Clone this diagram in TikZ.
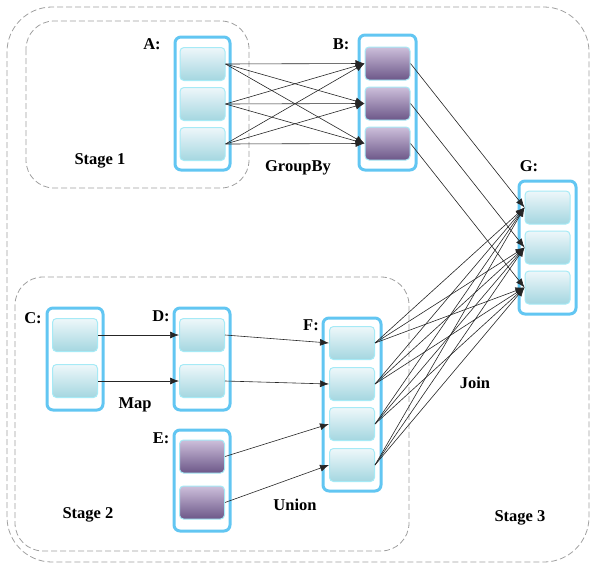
\documentclass[tikz,border=0pt]{standalone}
\usepackage{fontspec}
\setmainfont{Liberation Serif}
\usetikzlibrary{arrows.meta}
\definecolor{frameblue}{HTML}{62C6F2}
\definecolor{cellline}{HTML}{A6EAF6}
\definecolor{celltop}{HTML}{EEF7FA}
\definecolor{cellbot}{HTML}{A4D6E0}
\definecolor{purtop}{HTML}{CDBFDB}
\definecolor{purbot}{HTML}{6C5788}
\definecolor{stagegray}{HTML}{A0A0A0}
\begin{document}
\begin{tikzpicture}[x=1pt,y=-1pt,
  stagebox/.style={draw=stagegray,line width=0.8pt,dash pattern=on 6pt off 3pt,rounded corners=28pt},
  holder/.style={draw=frameblue,line width=3pt,fill=white,rounded corners=6pt,inner sep=0pt,minimum width=55pt},
  bluecell/.style={draw=cellline,line width=1pt,rounded corners=4pt,top color=celltop,bottom color=cellbot,minimum width=45pt,minimum height=33pt,inner sep=0pt},
  purcell/.style={draw=cellline,line width=1pt,rounded corners=4pt,top color=purtop,bottom color=purbot,minimum width=45pt,minimum height=33pt,inner sep=0pt},
  lbl/.style={font=\fontsize{16.5}{18}\selectfont\bfseries,inner sep=0pt},
  link/.style={draw=black!85,line width=0.6pt,-{Latex[length=9pt,width=7pt]}}]
\useasboundingbox (0,0) rectangle (594,565);

% stage outlines
\draw[stagebox,rounded corners=45pt] (7,7) rectangle (589,562);
\draw[stagebox] (26,21) rectangle (249,188);
\draw[stagebox] (15,277) rectangle (409,551);

% holders
\node[holder,minimum width=55pt,minimum height=133pt] (hA) at (202.5,103.5) {};
\node[holder,minimum width=57pt,minimum height=135pt] (hB) at (387.5,102.5) {};
\node[holder,minimum width=57pt,minimum height=133pt] (hG) at (547.5,247.5) {};
\node[holder,minimum width=56pt,minimum height=102pt] (hC) at (75,359) {};
\node[holder,minimum width=56pt,minimum height=102pt] (hD) at (202,359) {};
\node[holder,minimum width=56pt,minimum height=101pt] (hE) at (202,480.5) {};
\node[holder,minimum width=58pt,minimum height=173pt] (hF) at (352,404.5) {};

% cells
\foreach \i/\y in {1/64,2/104,3/144} \node[bluecell] (a\i) at (202.5,\y) {};
\foreach \i/\y in {1/63.5,2/103.5,3/143.5} \node[purcell] (b\i) at (387.5,\y) {};
\foreach \i/\y in {1/207.5,2/247.5,3/287.5} \node[bluecell] (g\i) at (547.5,\y) {};
\foreach \i/\y in {1/335,2/381} \node[bluecell] (c\i) at (75,\y) {};
\foreach \i/\y in {1/335,2/381} \node[bluecell] (d\i) at (202,\y) {};
\foreach \i/\y in {1/456.5,2/502.5} \node[purcell] (e\i) at (202,\y) {};
\foreach \i/\y in {1/343,2/384,3/424,4/465} \node[bluecell] (f\i) at (352,\y) {};

% labels
\node[lbl] (tA) at (152,44) {A:};
\node[lbl] (tB) at (341,44) {B:};
\node[lbl] (tG) at (529,166) {G:};
\node[lbl] (tC) at (33,318) {C:};
\node[lbl] (tD) at (161,316) {D:};
\node[lbl] (tE) at (161,438) {E:};
\node[lbl] (tF) at (311,325) {F:};
\node[lbl] (tGroup) at (298,168) {GroupBy};
\node[lbl] (tS1) at (100,161) {Stage 1};
\node[lbl] (tMap) at (135,405) {Map};
\node[lbl] (tUnion) at (295,505) {Union};
\node[lbl] (tS2) at (88,515) {Stage 2};
\node[lbl] (tJoin) at (475,383) {Join};
\node[lbl] (tS3) at (520,518) {Stage 3};

% GroupBy shuffle
\foreach \i in {1,2,3}
  \foreach \j in {1,2,3}
    \draw[link] (a\i.east) -- (b\j.west);

% B to G
\foreach \i in {1,2,3} \draw[link] (b\i.east) -- (g\i.west);

% Map
\foreach \i in {1,2} \draw[link] (c\i.east) -- (d\i.west);

% Union
\draw[link] (d1.east) -- (f1.west);
\draw[link] (d2.east) -- (f2.west);
\draw[link] (e1.east) -- (f3.west);
\draw[link] (e2.east) -- (f4.west);

% Join
\foreach \i in {1,2,3,4}
  \foreach \j in {1,2,3}
    \draw[link] (f\i.east) -- (g\j.west);
\end{tikzpicture}
\end{document}
